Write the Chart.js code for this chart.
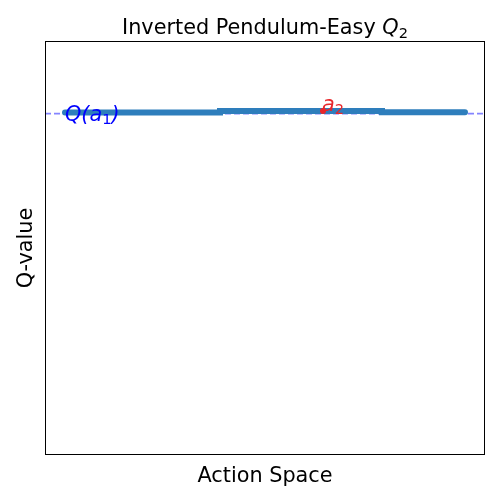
<!DOCTYPE html>
<html>
<head>
<meta charset="utf-8">
<script src="https://cdn.jsdelivr.net/npm/chart.js@4"></script>
<style>
  body { margin: 0; background: #fff; }
  #wrap { width: 500px; height: 500px; }
</style>
</head>
<body>
<div id="wrap"><canvas id="myChart" width="500" height="500"></canvas></div>
<script>

// data
const actionX = [0, 0.3875, 0.7925, 1.0];
const qValues = [0.8273, 0.8309, 0.8277, 0.8277];
const qA1 = 0.8244;          // dashed reference level Q(a1)
const a2Point = [0.645, 0.8309];
const xRange = [-0.05, 1.05];
const yRange = [0, 1];

const mainFont = '"DejaVu Sans", sans-serif';
const big = '20.8px ';
const sub = '14.6px ';

// text + frame plugin
const textPlugin = {
  id: 'textPlugin',
  afterDraw(chart) {
    const c = chart.ctx;
    const a = chart.chartArea;
    const xs = chart.scales.x, ys = chart.scales.y;
    c.save();
    c.strokeStyle = '#000';
    c.lineWidth = 1;
    c.strokeRect(a.left + 0.5, a.top + 0.5, a.right - a.left - 1, a.bottom - a.top - 1);

    c.fillStyle = '#000';
    c.textBaseline = 'alphabetic';
    // title
    const t1 = 'Inverted Pendulum-Easy ';
    c.font = big + mainFont;
    const w1 = c.measureText(t1).width;
    c.font = 'oblique ' + big + mainFont;
    const wq = c.measureText('Q').width;
    c.font = sub + mainFont;
    const w2 = c.measureText('2').width;
    let x0 = (a.left + a.right) / 2 - (w1 + wq + w2) / 2;
    c.textAlign = 'left';
    c.font = big + mainFont;
    c.fillText(t1, x0, 34);
    c.font = 'oblique ' + big + mainFont;
    c.fillText('Q', x0 + w1, 34);
    c.font = sub + mainFont;
    c.fillText('2', x0 + w1 + wq, 38);

    // axis labels
    c.font = big + mainFont;
    c.textAlign = 'center';
    c.fillText('Action Space', (a.left + a.right) / 2, 482);
    c.save();
    c.translate(32, (a.top + a.bottom) / 2);
    c.rotate(-Math.PI / 2);
    c.fillText('Q-value', 0, 0);
    c.restore();

    // Q(a1) label
    c.textAlign = 'left';
    c.fillStyle = '#0000ff';
    let px = xs.getPixelForValue(actionX[0]);
    let py = ys.getPixelForValue(qA1) + 7;
    c.font = 'oblique ' + big + mainFont;
    c.fillText('Q(a', px, py);
    let w = c.measureText('Q(a').width;
    c.font = sub + mainFont;
    c.fillText('1', px + w, py + 3);
    let wn = c.measureText('1').width;
    c.font = 'oblique ' + big + mainFont;
    c.fillText(')', px + w + wn, py);

    // a2 label
    c.fillStyle = '#e8262a';
    px = xs.getPixelForValue(a2Point[0]);
    py = ys.getPixelForValue(a2Point[1]);
    c.font = 'oblique ' + big + mainFont;
    c.fillText('a', px - 1, py);
    w = c.measureText('a').width;
    c.font = sub + mainFont;
    c.fillText('2', px - 1 + w, py + 3);
    c.restore();
  }
};

const ctx = document.getElementById('myChart');

new Chart(ctx, {
  type: 'line',
  data: {
    datasets: [
      {
        data: actionX.map((x, i) => ({ x: x, y: qValues[i] })),
        borderColor: '#2e7ebc',
        borderWidth: 6,
        borderCapStyle: 'round',
        stepped: 'before',
        pointRadius: 0,
        order: 2
      },
      {
        data: xRange.map(x => ({ x: x, y: qA1 })),
        borderColor: 'rgba(80, 80, 255, 0.7)',
        borderWidth: 1.8,
        borderDash: [6, 3],
        pointRadius: 0,
        order: 3
      },
      {
        data: [{ x: a2Point[0], y: a2Point[1] }],
        showLine: false,
        pointRadius: 3,
        pointBackgroundColor: '#e8262a',
        pointBorderWidth: 0,
        order: 1
      }
    ]
  },
  options: {
    responsive: false,
    animation: false,
    layout: { padding: { left: 45, right: 15, top: 41, bottom: 45 } },
    plugins: { legend: { display: false }, tooltip: { enabled: false } },
    scales: {
      x: { type: 'linear', min: xRange[0], max: xRange[1], display: false },
      y: { type: 'linear', min: yRange[0], max: yRange[1], display: false }
    }
  },
  plugins: [textPlugin]
});

</script>
</body>
</html>
